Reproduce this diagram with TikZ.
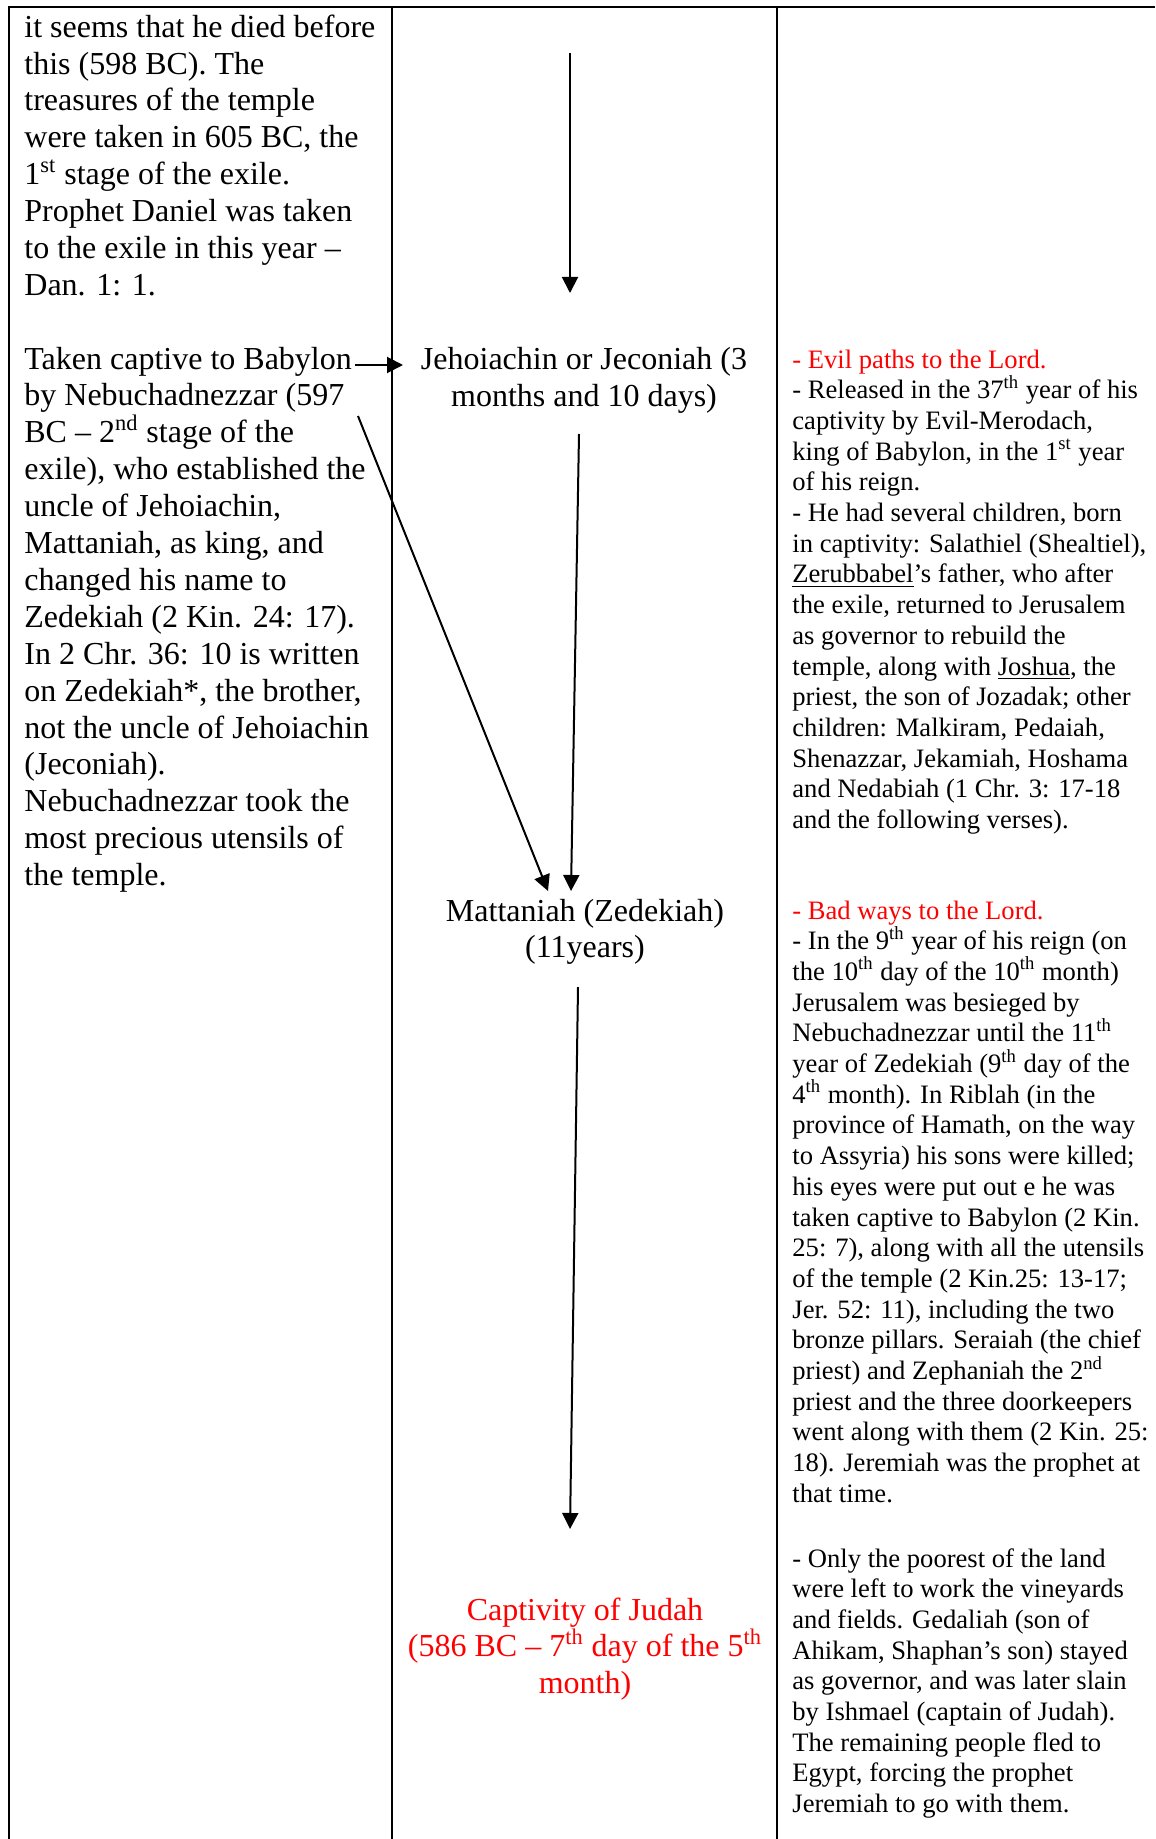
\documentclass[tikz,border=0pt]{standalone}
\usepackage{fontspec}
\setmainfont{Liberation Serif}
\usetikzlibrary{arrows.meta}
\begin{document}
\begin{tikzpicture}[x=0.5pt,y=-0.5pt,
  rule/.style={line width=1.4pt},
  arr/.style={line width=1pt,-{Triangle[length=8pt,width=8pt]}},
  % multi-line nodes are placed by the baseline of their last line
  lefttext/.style={anchor=base west,inner sep=0pt,align=left,font=\fontsize{16}{18.45}\selectfont},
  midtext/.style={anchor=base,inner sep=0pt,align=center,font=\fontsize{16}{18.3}\selectfont},
  righttext/.style={anchor=base west,inner sep=0pt,align=left,font=\fontsize{13.3}{15.35}\selectfont},
  alert/.style={text=red}]
\useasboundingbox (0,0) rectangle (1155,1839);
\fill[white] (0,0) rectangle (1155,1839);

% table rules
\draw[rule] (9,1839) -- (9,7) -- (1155,7);
\draw[rule] (392,7) -- (392,1839);
\draw[rule] (777,7) -- (777,1839);

% left column
\node[lefttext] (l1) at (24,295.5) {it seems that he died before\\
this (598 BC). The\\
treasures of the temple\\
were taken in 605 BC, the\\
1\textsuperscript{st} stage of the exile.\\
Prophet Daniel was taken\\
to the exile in this year –\\
Dan. 1: 1.};

\node[lefttext] (l2) at (24,885.6) {Taken captive to Babylon\\
by Nebuchadnezzar (597\\
BC – 2\textsuperscript{nd} stage of the\\
exile), who established the\\
uncle of Jehoiachin,\\
Mattaniah, as king, and\\
changed his name to\\
Zedekiah (2 Kin. 24: 17).\\
In 2 Chr. 36: 10 is written\\
on Zedekiah*, the brother,\\
not the uncle of Jehoiachin\\
(Jeconiah).\\
Nebuchadnezzar took the\\
most precious utensils of\\
the temple.};

% middle column
\node[midtext] (jeh) at (584,406.6) {Jehoiachin or Jeconiah (3\\months and 10 days)};
\node[midtext] (mat) at (585,957.6) {Mattaniah (Zedekiah)\\(11years)};
\node[midtext,alert] (cap) at (585,1693.2) {Captivity of Judah\\
(586 BC – 7\textsuperscript{th} day of the 5\textsuperscript{th}\\
month)};

% right column
\node[righttext] (r1) at (792,828.5) {\textcolor{red}{- Evil paths to the Lord.}\\
- Released in the 37\textsuperscript{th} year of his\\
captivity by Evil-Merodach,\\
king of Babylon, in the 1\textsuperscript{st} year\\
of his reign.\\
- He had several children, born\\
in captivity: Salathiel (Shealtiel),\\
\underline{Zerubbabel}’s father, who after\\
the exile, returned to Jerusalem\\
as governor to rebuild the\\
temple, along with \underline{Joshua}, the\\
priest, the son of Jozadak; other\\
children: Malkiram, Pedaiah,\\
Shenazzar, Jekamiah, Hoshama\\
and Nedabiah (1 Chr. 3: 17-18\\
and the following verses).};

\node[righttext] (r2) at (792,1502.3) {\textcolor{red}{- Bad ways to the Lord.}\\
- In the 9\textsuperscript{th} year of his reign (on\\
the 10\textsuperscript{th} day of the 10\textsuperscript{th} month)\\
Jerusalem was besieged by\\
Nebuchadnezzar until the 11\textsuperscript{th}\\
year of Zedekiah (9\textsuperscript{th} day of the\\
4\textsuperscript{th} month). In Riblah (in the\\
province of Hamath, on the way\\
to Assyria) his sons were killed;\\
his eyes were put out e he was\\
taken captive to Babylon (2 Kin.\\
25: 7), along with all the utensils\\
of the temple (2 Kin.25: 13-17;\\
Jer. 52: 11), including the two\\
bronze pillars. Seraiah (the chief\\
priest) and Zephaniah the 2\textsuperscript{nd}\\
priest and the three doorkeepers\\
went along with them (2 Kin. 25:\\
18). Jeremiah was the prophet at\\
that time.};

\node[righttext] (r3) at (792,1812.6) {- Only the poorest of the land\\
were left to work the vineyards\\
and fields. Gedaliah (son of\\
Ahikam, Shaphan’s son) stayed\\
as governor, and was later slain\\
by Ishmael (captain of Judah).\\
The remaining people fled to\\
Egypt, forcing the prophet\\
Jeremiah to go with them.};

% connector end points
\coordinate (a1s) at (570,53);
\coordinate (a1e) at (570,293);
\coordinate (babylon) at (355,365);
\coordinate (jehin) at (403,365);
\coordinate (nebu) at (358,416);
\coordinate (matl) at (548,891);
\coordinate (jehout) at (579,434);
\coordinate (matr) at (571,891);
\coordinate (matout) at (578,987);
\coordinate (capin) at (570,1529);

% connectors
\draw[arr] (a1s) -- (a1e);
\draw[arr] (babylon) -- (jehin);
\draw[arr] (nebu) -- (matl);
\draw[arr] (jehout) -- (matr);
\draw[arr] (matout) -- (capin);
\end{tikzpicture}
\end{document}
